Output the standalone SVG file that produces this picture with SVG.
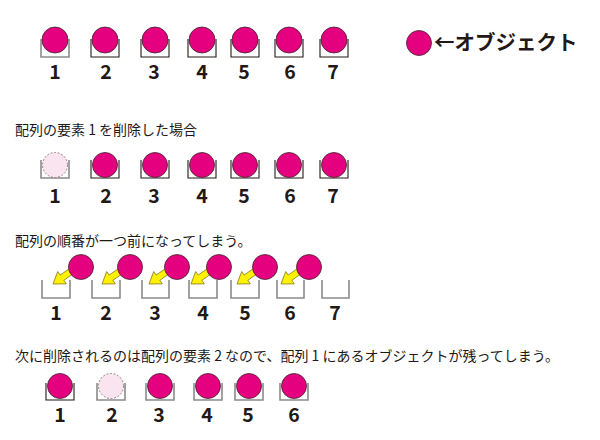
<svg xmlns="http://www.w3.org/2000/svg" width="600" height="440" viewBox="0 0 600 440">
<defs>
<style>
.obj{fill:#E4007F;stroke:#3a2a2a;stroke-width:0.8}
.del{fill:#F9E4EF;stroke:#7a6a70;stroke-width:0.8;stroke-dasharray:2 1.6}
.bk{fill:none;stroke:#231815;stroke-width:1.1}
.bg{fill:none;stroke:#8a8a8a;stroke-width:1.6}
.num{font-family:"Noto Sans CJK JP","Noto Sans",sans-serif;font-weight:bold;font-size:19.5px;fill:#231815;text-anchor:middle}
.hd{font-family:"Noto Sans CJK JP",sans-serif;font-size:14px;fill:#231815}
.lg{font-family:"Noto Sans CJK JP",sans-serif;font-weight:bold;font-size:20.5px;fill:#231815}
.arr{fill:#FFF100;stroke:#8f8420;stroke-width:0.8;stroke-linejoin:round}
</style>
<path id="ar" d="M0,0 L11,-7.5 L11,-3.2 L24,-3.2 L24,3.2 L11,3.2 L11,7.5 Z"/>
</defs>
<rect width="600" height="440" fill="#fff"/>

<!-- Legend -->
<g id="legend">
<circle class="obj" cx="419" cy="43" r="12.5"/>
<text class="lg" x="434" y="50">←オブジェクト</text>
</g>

<!-- Row 1 -->
<g id="r1-1"><path class="bg" d="M41,39V57H69V39"/><circle class="obj" cx="55" cy="40" r="13"/><text class="num" x="55" y="79">1</text></g>
<g id="r1-2"><path class="bk" d="M91,39V57H119V39"/><circle class="obj" cx="105" cy="40" r="13"/><text class="num" x="106" y="79">2</text></g>
<g id="r1-3"><path class="bk" d="M141,39V57H169V39"/><circle class="obj" cx="155" cy="40" r="13"/><text class="num" x="154" y="79">3</text></g>
<g id="r1-4"><path class="bk" d="M188,39V57H216V39"/><circle class="obj" cx="202" cy="40" r="13"/><text class="num" x="202" y="79">4</text></g>
<g id="r1-5"><path class="bk" d="M231,39V57H259V39"/><circle class="obj" cx="245" cy="40" r="13"/><text class="num" x="244" y="79">5</text></g>
<g id="r1-6"><path class="bk" d="M275,39V57H303V39"/><circle class="obj" cx="289" cy="40" r="13"/><text class="num" x="290" y="79">6</text></g>
<g id="r1-7"><path class="bk" d="M320,39V57H348V39"/><circle class="obj" cx="334" cy="40" r="13"/><text class="num" x="333" y="79">7</text></g>

<!-- Row 2 -->
<text class="hd" x="15" y="135">配列の要素 1 を削除した場合</text>
<g id="r2-1"><path class="bg" d="M41,160V178H69V160"/><circle class="del" cx="55" cy="165" r="12.5"/><text class="num" x="55" y="203">1</text></g>
<g id="r2-2"><path class="bk" d="M91,160V178H119V160"/><circle class="obj" cx="105" cy="165" r="12.5"/><text class="num" x="106" y="203">2</text></g>
<g id="r2-3"><path class="bk" d="M141,160V178H169V160"/><circle class="obj" cx="155" cy="165" r="12.5"/><text class="num" x="154" y="203">3</text></g>
<g id="r2-4"><path class="bk" d="M188,160V178H216V160"/><circle class="obj" cx="202" cy="165" r="12.5"/><text class="num" x="202" y="203">4</text></g>
<g id="r2-5"><path class="bk" d="M231,160V178H259V160"/><circle class="obj" cx="245" cy="165" r="12.5"/><text class="num" x="244" y="203">5</text></g>
<g id="r2-6"><path class="bk" d="M275,160V178H303V160"/><circle class="obj" cx="289" cy="165" r="12.5"/><text class="num" x="290" y="203">6</text></g>
<g id="r2-7"><path class="bk" d="M320,160V178H348V160"/><circle class="obj" cx="334" cy="165" r="12.5"/><text class="num" x="333" y="203">7</text></g>

<!-- Row 3 -->
<text class="hd" x="15" y="246">配列の順番が一つ前になってしまう。</text>
<g id="r3-b1"><path class="bg" d="M42,280V298H70V280"/><text class="num" x="56" y="320">1</text></g>
<g id="r3-b2"><path class="bg" d="M92,280V298H120V280"/><text class="num" x="106" y="320">2</text></g>
<g id="r3-b3"><path class="bg" d="M142,280V298H169V280"/><text class="num" x="155" y="320">3</text></g>
<g id="r3-b4"><path class="bg" d="M189,280V298H217V280"/><text class="num" x="203" y="320">4</text></g>
<g id="r3-b5"><path class="bg" d="M231,280V298H259V280"/><text class="num" x="245" y="320">5</text></g>
<g id="r3-b6"><path class="bg" d="M277,280V298H304V280"/><text class="num" x="290" y="320">6</text></g>
<g id="r3-b7"><path class="bg" d="M322,280V298H349V280"/><text class="num" x="335" y="320">7</text></g>
<g id="connectors">
<use href="#ar" class="arr" transform="translate(53,284) rotate(-35)"/>
<use href="#ar" class="arr" transform="translate(102,284) rotate(-35)"/>
<use href="#ar" class="arr" transform="translate(149,284) rotate(-35)"/>
<use href="#ar" class="arr" transform="translate(191,284) rotate(-35)"/>
<use href="#ar" class="arr" transform="translate(237,284) rotate(-35)"/>
<use href="#ar" class="arr" transform="translate(281,284) rotate(-35)"/>
</g>
<g id="r3-o2"><circle class="obj" cx="81" cy="267" r="12.5"/></g>
<g id="r3-o3"><circle class="obj" cx="130" cy="267" r="12.5"/></g>
<g id="r3-o4"><circle class="obj" cx="177" cy="267" r="12.5"/></g>
<g id="r3-o5"><circle class="obj" cx="219" cy="267" r="12.5"/></g>
<g id="r3-o6"><circle class="obj" cx="265" cy="267" r="12.5"/></g>
<g id="r3-o7"><circle class="obj" cx="309" cy="267" r="12.5"/></g>

<!-- Row 4 -->
<text class="hd" x="15" y="361">次に削除されるのは配列の要素 2 なので、配列 1 にあるオブジェクトが残ってしまう。</text>
<g id="r4-1"><path class="bk" d="M46,383V400H74V383"/><circle class="obj" cx="60" cy="386" r="12.5"/><text class="num" x="60" y="422">1</text></g>
<g id="r4-2"><path class="bg" d="M97,383V400H125V383"/><circle class="del" cx="111" cy="386" r="12.5"/><text class="num" x="112" y="422">2</text></g>
<g id="r4-3"><path class="bg" d="M146,383V400H174V383"/><circle class="obj" cx="160" cy="386" r="12.5"/><text class="num" x="159" y="422">3</text></g>
<g id="r4-4"><path class="bg" d="M194,383V400H222V383"/><circle class="obj" cx="208" cy="386" r="12.5"/><text class="num" x="207" y="422">4</text></g>
<g id="r4-5"><path class="bg" d="M235,383V400H263V383"/><circle class="obj" cx="249" cy="386" r="12.5"/><text class="num" x="248" y="422">5</text></g>
<g id="r4-6"><path class="bg" d="M280,383V400H308V383"/><circle class="obj" cx="294" cy="386" r="12.5"/><text class="num" x="294" y="422">6</text></g>
</svg>
